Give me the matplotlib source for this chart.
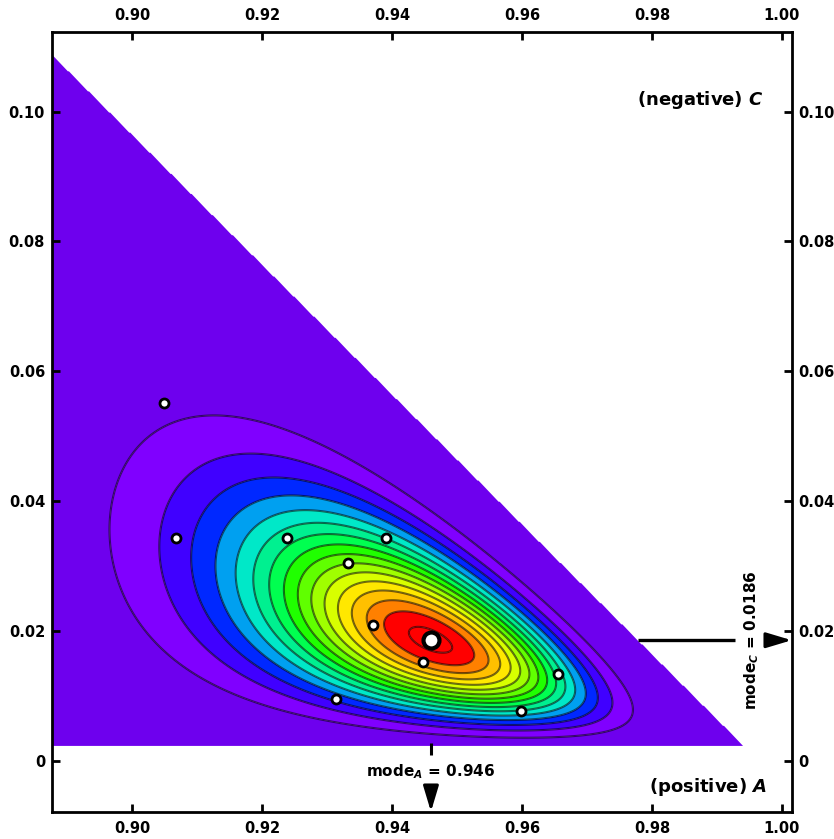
import numpy as np
import matplotlib
matplotlib.use("Agg")
import matplotlib.pyplot as plt
from matplotlib.colors import ListedColormap, BoundaryNorm

plt.rcParams['font.family'] = ['DejaVu Sans']
plt.rcParams['mathtext.fontset'] = 'custom'
plt.rcParams['mathtext.rm'] = 'DejaVu Sans:bold'
plt.rcParams['mathtext.it'] = 'DejaVu Sans:italic:bold'
plt.rcParams['mathtext.bf'] = 'DejaVu Sans:italic:bold'

# ---- data ----
mode_A = 0.946
mode_C = 0.0186
concentration = 178.0          # Dirichlet concentration (alpha0 - 3)
C_min = 0.0022                 # lower edge of evaluated region
AC_max = 0.9965                # upper edge A + C of evaluated region
level_step = 0.0613            # contour step as a fraction of the peak density
n_lines = 16

obs_A = [0.9049, 0.9068, 0.9238, 0.9333, 0.9391, 0.9371, 0.9447, 0.9314, 0.9599, 0.9656]
obs_C = [0.0552, 0.0343, 0.0343, 0.0305, 0.0343, 0.0210, 0.0153, 0.0096, 0.0077, 0.0134]

x_ticks = [0.90, 0.92, 0.94, 0.96, 0.98, 1.00]
x_ticklabels = ["0.90", "0.92", "0.94", "0.96", "0.98", "1.00"]
y_ticks = [0.0, 0.02, 0.04, 0.06, 0.08, 0.10]
y_ticklabels = ["0", "0.02", "0.04", "0.06", "0.08", "0.10"]

band_colors = ["#6E00EE", "#8000FF", "#4000FF", "#0028FF", "#00A0F0", "#00E8C8",
               "#00F090", "#00FF50", "#20FF00", "#60FF00", "#A0FF00", "#D8FF00",
               "#FFE800", "#FFC000", "#FF8000", "#FF0000", "#FF0000"]

xlim = (0.8877, 1.0015)
ylim = (-0.0078, 0.1122)

# ---- density ----
A = np.linspace(xlim[0], xlim[1], 700)
C = np.linspace(ylim[0], ylim[1], 700)
AA, CC = np.meshgrid(A, C)
BB = 1.0 - AA - CC
mode_B = 1.0 - mode_A - mode_C
valid = (CC >= C_min) & (AA + CC <= AC_max)
with np.errstate(invalid='ignore', divide='ignore'):
    logf = concentration * (mode_A * np.log(AA) + mode_B * np.log(BB) + mode_C * np.log(CC))
logmax = concentration * (mode_A * np.log(mode_A) + mode_B * np.log(mode_B) + mode_C * np.log(mode_C))
F = np.exp(logf - logmax)
F = np.where(valid, F, np.nan)

levels = np.concatenate([[0.0], level_step * np.arange(1, n_lines + 1), [1.01]])

fig = plt.figure(figsize=(8.34, 8.39), dpi=100)
ax = fig.add_axes([52 / 834, 1 - 811.7 / 839, (791.7 - 52) / 834, (811.7 - 32.3) / 839])

cmap = ListedColormap(band_colors)
norm = BoundaryNorm(levels, cmap.N)
ax.contourf(AA, CC, F, levels=levels, cmap=cmap, norm=norm, antialiased=True)
ax.contour(AA, CC, F, levels=levels[1:-1], colors='k', alpha=0.55, linewidths=1.5)

ax.plot(obs_A, obs_C, 'o', ms=6.5, mfc='white', mec='black', mew=2.0, zorder=5)
ax.plot([mode_A], [mode_C], 'o', ms=11.5, mfc='white', mec='black', mew=3.0, zorder=6)

ax.set_xlim(*xlim)
ax.set_ylim(*ylim)

# mode A annotation
ax.plot([mode_A, mode_A], [0.00285, 0.0009], color='black', lw=2.2, solid_capstyle='butt')
ax.text(mode_A, -0.0017, r"mode$_{A}$ = 0.946", ha='center', va='center', fontsize=11,
        fontweight='bold')
ax.annotate('', xy=(mode_A, ylim[0]), xytext=(mode_A, -0.0046),
            arrowprops=dict(arrowstyle='-|>,head_length=1.1,head_width=0.33',
                            mutation_scale=14, color='black', lw=2.2, shrinkA=0, shrinkB=0))

# mode C annotation
ax.plot([AC_max - mode_C, 0.9928], [mode_C, mode_C], color='black', lw=2.4, solid_capstyle='butt')
ax.text(0.99535, mode_C, r"mode$_{C}$ = 0.0186", ha='center', va='center', fontsize=11,
        fontweight='bold', rotation=90)
ax.annotate('', xy=(xlim[1], mode_C), xytext=(0.9975, mode_C),
            arrowprops=dict(arrowstyle='-|>,head_length=1.1,head_width=0.33',
                            mutation_scale=14, color='black', lw=2.2, shrinkA=0, shrinkB=0))

ax.text(0.9971, 0.1018, r"(negative) $\mathbf{C}$", ha='right', va='center',
        fontsize=13, fontweight='bold')
ax.text(0.9977, -0.0040, r"(positive) $\mathbf{A}$", ha='right', va='center',
        fontsize=13, fontweight='bold')

ax.set_xticks(x_ticks)
ax.set_xticklabels(x_ticklabels)
ax.set_yticks(y_ticks)
ax.set_yticklabels(y_ticklabels)
ax.tick_params(axis='both', which='both', direction='in', length=6, width=2,
               labelsize=10.5, top=True, right=True, labeltop=True, labelright=True)
ax.tick_params(axis='x', pad=7)
ax.tick_params(axis='y', pad=5)
for t in ax.xaxis.get_major_ticks() + ax.yaxis.get_major_ticks():
    t.label1.set_fontweight('bold')
    t.label2.set_fontweight('bold')
for s in ax.spines.values():
    s.set_linewidth(2)

fig.savefig("out.png", dpi=100)
